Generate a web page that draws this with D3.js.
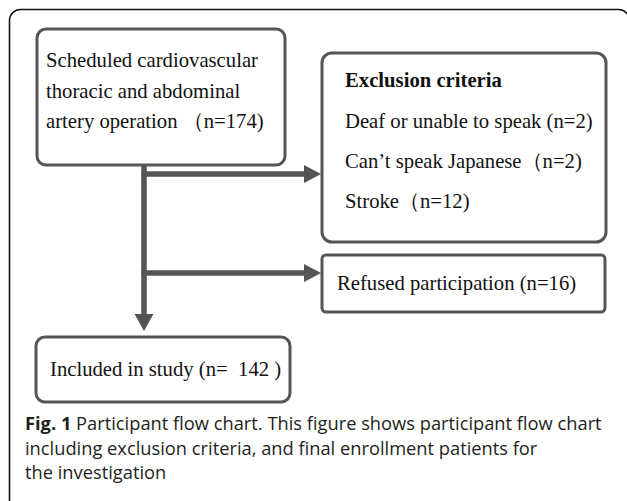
<!DOCTYPE html>
<html lang="en">
<head>
    <meta charset="UTF-8">
    <title>Participant flow chart</title>
    <script src="https://d3js.org/d3.v7.min.js"></script>
    <style>
        body {
            margin: 0;
            background-color: white;
        }
        text {
            white-space: pre;
        }
        .box-text {
            font-family: "Liberation Serif", "Times New Roman", serif;
            font-size: 20.7px;
            fill: #111;
        }
        .caption {
            font-family: "Open Sans", sans-serif;
            font-size: 18.3px;
            fill: #231f20;
        }
    </style>
</head>
<body>
    <div id="chart"></div>

    <script>
        // flow chart content
        const startLines = ["Scheduled cardiovascular", "thoracic and abdominal", "artery operation \uFF08n=174)"];
        const exclusionTitle = "Exclusion criteria";
        const exclusionItems = ["Deaf or unable to speak (n=2)", "Can\u2019t speak Japanese\uFF08n=2)", "Stroke\uFF08n=12)"];
        const refusedLabel = "Refused participation (n=16)";
        const includedLabel = "Included in study (n=  142 )";
        const captionLines = [
            ["Fig. 1", " Participant flow chart. This figure shows participant flow chart"],
            ["", "including exclusion criteria, and final enrollment patients for"],
            ["", "the investigation"]
        ];

        const W = 627, H = 501;
        const lineColor = "#555";

        const svg = d3.select("#chart")
            .append("svg")
            .attr("width", W)
            .attr("height", H);

        // outer frame (runs off the bottom/right of the picture)
        svg.append("rect")
            .attr("x", 9.5).attr("y", 9.5)
            .attr("width", 620).attr("height", 520)
            .attr("rx", 11)
            .attr("fill", "none")
            .attr("stroke", "#111")
            .attr("stroke-width", 1.6);

        const boxes = [
            { id: "start", x: 37, y: 29, w: 248, h: 136, r: 9 },
            { id: "excl", x: 322, y: 53, w: 284, h: 189, r: 10 },
            { id: "refused", x: 322, y: 255, w: 283, h: 57, r: 4 },
            { id: "included", x: 36, y: 337, w: 254, h: 65, r: 9 }
        ];

        svg.selectAll("rect.box")
            .data(boxes)
            .enter().append("rect")
            .attr("class", "box")
            .attr("x", d => d.x)
            .attr("y", d => d.y)
            .attr("width", d => d.w)
            .attr("height", d => d.h)
            .attr("rx", d => d.r)
            .attr("fill", "white")
            .attr("stroke", lineColor)
            .attr("stroke-width", 3);

        // connectors: trunk + two side arrows, heads drawn as triangles
        const trunkX = 144;
        const links = [
            { x1: trunkX, y1: 165, x2: trunkX, y2: 331 },
            { x1: trunkX - 2.5, y1: 174, x2: 321, y2: 174 },
            { x1: trunkX - 2.5, y1: 273, x2: 321, y2: 273 }
        ];
        const headLen = 17;
        svg.selectAll("line.link")
            .data(links)
            .enter().append("line")
            .attr("class", "link")
            .attr("x1", d => d.x1).attr("y1", d => d.y1)
            .attr("x2", d => d.x1 === d.x2 ? d.x2 : d.x2 - headLen + 2)
            .attr("y2", d => d.x1 === d.x2 ? d.y2 - headLen + 2 : d.y2)
            .attr("stroke", lineColor)
            .attr("stroke-width", 5.5);

        svg.selectAll("path.head")
            .data(links)
            .enter().append("path")
            .attr("class", "head")
            .attr("fill", lineColor)
            .attr("d", d => d.x1 === d.x2
                ? `M${d.x2 - 9.5},${d.y2 - headLen} L${d.x2 + 9.5},${d.y2 - headLen} L${d.x2},${d.y2} Z`
                : `M${d.x2 - headLen},${d.y2 - 9} L${d.x2 - headLen},${d.y2 + 9} L${d.x2},${d.y2} Z`);

        // start box text
        svg.selectAll("text.start")
            .data(startLines)
            .enter().append("text")
            .attr("class", "box-text start")
            .attr("x", 46)
            .attr("y", (d, i) => 67 + i * 30.5)
            .text(d => d);

        // exclusion criteria
        svg.append("text")
            .attr("class", "box-text")
            .attr("x", 345)
            .attr("y", 87)
            .style("font-weight", "bold")
            .text(exclusionTitle);

        svg.selectAll("text.excl")
            .data(exclusionItems)
            .enter().append("text")
            .attr("class", "box-text excl")
            .attr("x", 345)
            .attr("y", (d, i) => 127.5 + i * 40)
            .text(d => d);

        svg.append("text")
            .attr("class", "box-text")
            .attr("x", 337)
            .attr("y", 290)
            .text(refusedLabel);

        svg.append("text")
            .attr("class", "box-text")
            .attr("x", 50)
            .attr("y", 376)
            .text(includedLabel);

        // caption
        const cap = svg.selectAll("text.caption")
            .data(captionLines)
            .enter().append("text")
            .attr("class", "caption")
            .attr("x", 25)
            .attr("y", (d, i) => 430 + i * 24.5);
        cap.append("tspan")
            .style("font-weight", "bold")
            .text(d => d[0]);
        cap.append("tspan")
            .text(d => d[1]);
    </script>
</body>
</html>
